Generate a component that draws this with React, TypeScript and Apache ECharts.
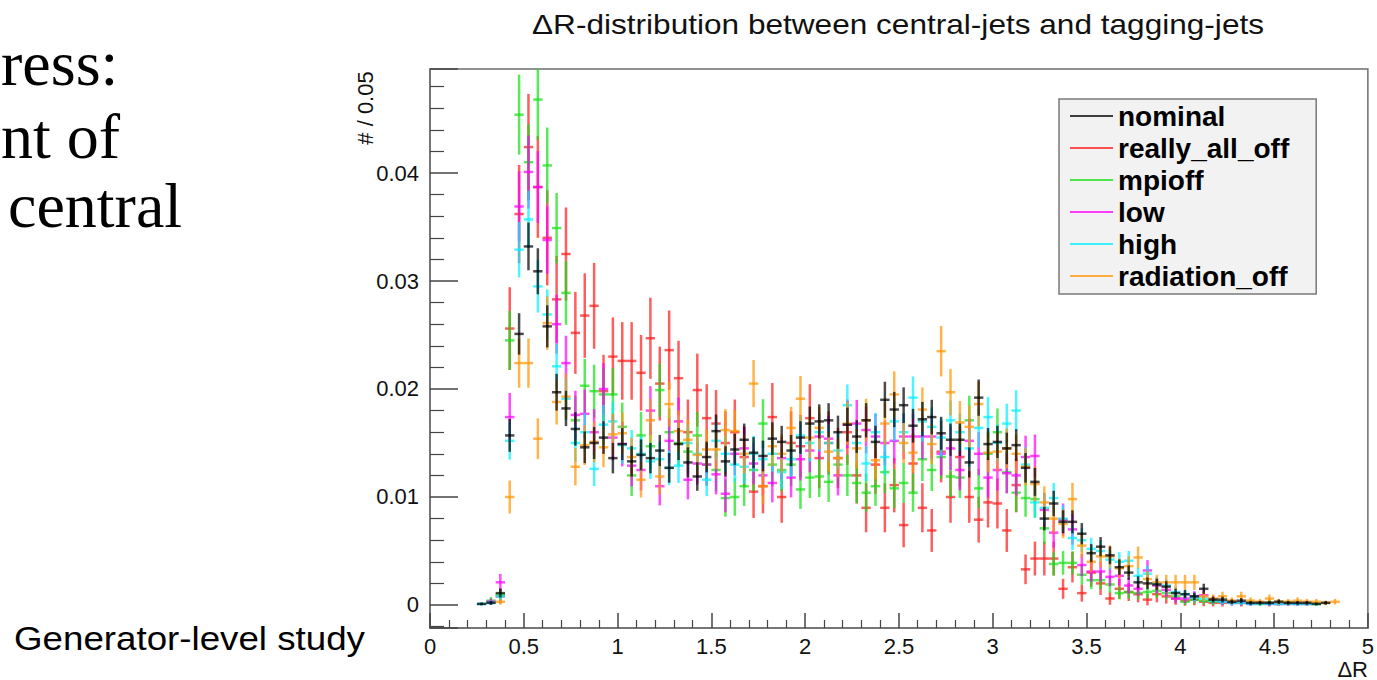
import React, { useEffect, useRef } from "react";
import * as echarts from "echarts";

const BIN_WIDTH = 0.05;

const binCenters = [
  0.275, 0.325, 0.375, 0.425, 0.475, 0.525, 0.575, 0.625, 0.675, 0.725,
  0.775, 0.825, 0.875, 0.925, 0.975, 1.025, 1.075, 1.125, 1.175, 1.225,
  1.275, 1.325, 1.375, 1.425, 1.475, 1.525, 1.575, 1.625, 1.675, 1.725,
  1.775, 1.825, 1.875, 1.925, 1.975, 2.025, 2.075, 2.125, 2.175, 2.225,
  2.275, 2.325, 2.375, 2.425, 2.475, 2.525, 2.575, 2.625, 2.675, 2.725,
  2.775, 2.825, 2.875, 2.925, 2.975, 3.025, 3.075, 3.125, 3.175, 3.225,
  3.275, 3.325, 3.375, 3.425, 3.475, 3.525, 3.575, 3.625, 3.675, 3.725,
  3.775, 3.825, 3.875, 3.925, 3.975, 4.025, 4.075, 4.125, 4.175, 4.225,
  4.275, 4.325, 4.375, 4.425, 4.475, 4.525, 4.575, 4.625, 4.675, 4.725,
  4.775, 4.825,
];

const nominal = [
  0.0001, 0.0002, 0.0011, 0.0157, 0.0251, 0.0332, 0.0309, 0.0258, 0.0197, 0.0182,
  0.0163, 0.0146, 0.0150, 0.0155, 0.0136, 0.0149, 0.0133, 0.0139, 0.0136, 0.0143,
  0.0127, 0.0149, 0.0132, 0.0119, 0.0137, 0.0161, 0.0133, 0.0144, 0.0153, 0.0141,
  0.0138, 0.0154, 0.0151, 0.0143, 0.0155, 0.0168, 0.0170, 0.0171, 0.0160, 0.0167,
  0.0156, 0.0171, 0.0151, 0.0190, 0.0181, 0.0185, 0.0166, 0.0172, 0.0174, 0.0159,
  0.0153, 0.0153, 0.0132, 0.0192, 0.0149, 0.0151, 0.0145, 0.0148, 0.0127, 0.0114,
  0.0080, 0.0094, 0.0077, 0.0077, 0.0066, 0.0048, 0.0054, 0.0046, 0.0035, 0.0030,
  0.0021, 0.0020, 0.0019, 0.0017, 0.0011, 0.0010, 0.0008, 0.0015, 0.0005, 0.0005,
  0.0003, 0.0004, 0.0002, 0.0002, 0.0002, 0.0003, 0.0002, 0.0002, 0.0002, 0.0001,
  0.0002, null,
];

const reallyAllOff = [
  null, null, 0.0008, 0.0256, 0.0362, 0.0424, 0.0387, 0.0340, 0.0283, 0.0325,
  0.0252, 0.0268, 0.0277, 0.0198, 0.0230, 0.0226, 0.0226, 0.0215, 0.0247, 0.0205,
  0.0236, 0.0210, 0.0160, 0.0199, 0.0173, 0.0168, 0.0150, 0.0160, 0.0137, 0.0105,
  0.0110, 0.0174, 0.0100, 0.0150, 0.0147, 0.0173, 0.0136, 0.0150, 0.0136, 0.0160,
  0.0120, 0.0090, 0.0130, 0.0090, 0.0111, 0.0074, 0.0131, 0.0090, 0.0069, 0.0142,
  0.0100, 0.0137, 0.0100, 0.0079, 0.0095, 0.0094, 0.0069, 0.0111, 0.0033, 0.0043,
  0.0043, 0.0043, 0.0015, 0.0035, 0.0011, 0.0030, 0.0020, 0.0006, 0.0015, 0.0012,
  0.0010, 0.0005, 0.0010, 0.0008, 0.0006, 0.0004, 0.0005, 0.0003, 0.0002, 0.0002,
  null, 0.0002, null, null, 0.0002, null, null, null, null, null,
  null, null,
];

const mpioff = [
  null, 0.0004, 0.0010, 0.0245, 0.0454, 0.0410, 0.0468, 0.0407, 0.0349, 0.0289,
  0.0171, 0.0203, 0.0198, 0.0195, 0.0195, 0.0165, 0.0120, 0.0157, 0.0147, 0.0199,
  0.0160, 0.0150, 0.0142, 0.0157, 0.0130, 0.0125, 0.0099, 0.0100, 0.0110, 0.0125,
  0.0168, 0.0130, 0.0125, 0.0130, 0.0107, 0.0118, 0.0119, 0.0114, 0.0130, 0.0120,
  0.0113, 0.0104, 0.0110, 0.0123, 0.0108, 0.0113, 0.0104, 0.0135, 0.0125, 0.0137,
  0.0119, 0.0118, 0.0171, 0.0108, 0.0140, 0.0160, 0.0123, 0.0104, 0.0099, 0.0098,
  0.0071, 0.0038, 0.0039, 0.0039, 0.0028, 0.0023, 0.0023, 0.0019, 0.0011, 0.0012,
  0.0011, 0.0012, 0.0013, 0.0011, 0.0008, 0.0003, 0.0005, 0.0004, 0.0003, 0.0003,
  0.0002, 0.0002, 0.0002, 0.0001, 0.0002, 0.0001, 0.0002, 0.0001, 0.0001, 0.0001,
  null, null,
];

const low = [
  null, 0.0003, 0.0021, 0.0174, 0.0369, 0.0401, 0.0387, 0.0338, 0.0260, 0.0224,
  0.0176, 0.0177, 0.0160, 0.0200, 0.0155, 0.0149, 0.0129, 0.0125, 0.0180, 0.0110,
  0.0152, 0.0170, 0.0116, 0.0131, 0.0130, 0.0121, 0.0103, 0.0140, 0.0145, 0.0131,
  0.0120, 0.0113, 0.0136, 0.0118, 0.0135, 0.0143, 0.0156, 0.0154, 0.0120, 0.0167,
  0.0168, 0.0162, 0.0156, 0.0150, 0.0152, 0.0156, 0.0156, 0.0156, 0.0156, 0.0140,
  0.0145, 0.0125, 0.0152, 0.0140, 0.0118, 0.0125, 0.0122, 0.0120, 0.0137, 0.0138,
  0.0088, 0.0067, 0.0079, 0.0070, 0.0037, 0.0031, 0.0031, 0.0026, 0.0027, 0.0018,
  0.0015, 0.0032, 0.0018, 0.0014, 0.0006, 0.0006, 0.0008, 0.0009, 0.0005, 0.0003,
  0.0002, 0.0002, 0.0001, 0.0002, 0.0001, 0.0001, 0.0001, 0.0001, 0.0001, null,
  null, null,
];

const high = [
  0.0001, 0.0002, 0.0008, 0.0152, 0.0329, 0.0357, 0.0295, 0.0269, 0.0221, 0.0191,
  0.0150, 0.0160, 0.0126, 0.0167, 0.0170, 0.0148, 0.0145, 0.0140, 0.0133, 0.0135,
  0.0127, 0.0129, 0.0150, 0.0140, 0.0116, 0.0152, 0.0140, 0.0130, 0.0128, 0.0140,
  0.0135, 0.0140, 0.0123, 0.0135, 0.0157, 0.0150, 0.0160, 0.0150, 0.0143, 0.0185,
  0.0150, 0.0131, 0.0160, 0.0137, 0.0170, 0.0160, 0.0192, 0.0170, 0.0165, 0.0155,
  0.0171, 0.0160, 0.0145, 0.0164, 0.0174, 0.0150, 0.0168, 0.0180, 0.0130, 0.0095,
  0.0090, 0.0099, 0.0080, 0.0062, 0.0060, 0.0052, 0.0050, 0.0042, 0.0040, 0.0041,
  0.0027, 0.0029, 0.0020, 0.0018, 0.0012, 0.0010, 0.0007, 0.0006, 0.0004, 0.0003,
  0.0002, 0.0002, 0.0001, 0.0001, 0.0001, 0.0001, 0.0001, 0.0001, 0.0001, 0.0001,
  null, null,
];

const radiationOff = [
  null, null, 0.0003, 0.0100, 0.0224, 0.0224, 0.0154, 0.0261, 0.0188, 0.0193,
  0.0128, 0.0148, 0.0151, 0.0146, 0.0158, 0.0159, 0.0137, 0.0116, 0.0171, 0.0119,
  0.0186, 0.0161, 0.0153, 0.0139, 0.0144, 0.0144, 0.0162, 0.0161, 0.0140, 0.0205,
  0.0110, 0.0147, 0.0140, 0.0164, 0.0191, 0.0155, 0.0164, 0.0142, 0.0136, 0.0168,
  0.0145, 0.0171, 0.0134, 0.0168, 0.0195, 0.0150, 0.0141, 0.0181, 0.0149, 0.0235,
  0.0197, 0.0169, 0.0165, 0.0186, 0.0141, 0.0142, 0.0145, 0.0140, 0.0128, 0.0112,
  0.0095, 0.0080, 0.0075, 0.0098, 0.0055, 0.0040, 0.0045, 0.0045, 0.0034, 0.0036,
  0.0044, 0.0024, 0.0021, 0.0021, 0.0021, 0.0021, 0.0021, 0.0008, 0.0006, 0.0008,
  0.0004, 0.0008, 0.0004, 0.0003, 0.0006, 0.0003, 0.0003, 0.0004, 0.0003, 0.0003,
  0.0002, 0.0003,
];

// series names, colours and total entries (for Poisson error bars)
const seriesNames = ["nominal", "really_all_off", "mpioff", "low", "high", "radiation_off"];
const seriesValues = [nominal, reallyAllOff, mpioff, low, high, radiationOff];
const seriesColors = ["#000000", "#ff1a1a", "#14e014", "#ff00ff", "#00f0ff", "#ff9500"];
const seriesEntries = [6800, 1750, 3300, 3500, 5000, 4300];
const drawOrder = [1, 2, 3, 4, 5, 0];

export default function App() {
  const ref = useRef<HTMLDivElement>(null);

  useEffect(() => {
    if (!ref.current) return;
    const chart = echarts.init(ref.current, undefined, { renderer: "svg" });

    const series = drawOrder.map((si) => {
      const vals = seriesValues[si];
      const data: number[][] = [];
      vals.forEach((v, i) => {
        if (v === null || v === undefined) return;
        data.push([binCenters[i], v, Math.sqrt(v / seriesEntries[si])]);
      });
      const color = seriesColors[si];
      return {
        type: "custom",
        name: seriesNames[si],
        data,
        clip: true,
        itemStyle: { color, opacity: 0.75 },
        renderItem: (params: any, api: any) => {
          const x = api.value(0);
          const y = api.value(1);
          const e = api.value(2);
          const pl = api.coord([x - BIN_WIDTH / 2, y]);
          const pr = api.coord([x + BIN_WIDTH / 2, y]);
          const pt = api.coord([x, y + e]);
          const pb = api.coord([x, y - e]);
          const st = { stroke: color, lineWidth: 2.5, opacity: 0.7 };
          return {
            type: "group",
            children: [
              { type: "line", shape: { x1: pl[0], y1: pl[1], x2: pr[0], y2: pr[1] }, style: st },
              { type: "line", shape: { x1: pt[0], y1: pt[1], x2: pb[0], y2: pb[1] }, style: st },
            ],
          };
        },
      };
    });

    const option: any = {
      animation: false,
      backgroundColor: "#ffffff",
      grid: {
        left: 430,
        top: 69,
        right: 9,
        bottom: 52,
        show: true,
        borderColor: "#6e6e6e",
        borderWidth: 1.5,
        containLabel: false,
      },
      legend: {
        orient: "vertical",
        left: 1059,
        top: 99,
        data: seriesNames.map((n) => ({ name: n, icon: "rect" })),
        itemWidth: 43,
        itemHeight: 2,
        itemGap: 4,
        itemTextGap: 10,
        padding: [3, 27, 4, 11],
        backgroundColor: "#f2f2f2",
        borderColor: "#7a7a7a",
        borderWidth: 1.5,
        selectedMode: false,
        textStyle: {
          fontFamily: "Liberation Sans",
          fontWeight: "bold",
          fontSize: 28,
          lineHeight: 27,
          color: "#000",
        },
      },
      xAxis: {
        type: "value",
        min: 0,
        max: 5,
        interval: 0.5,
        axisLine: { show: true, onZero: false, lineStyle: { color: "#6e6e6e", width: 1.5 } },
        axisTick: { show: true, inside: true, length: 15, lineStyle: { color: "#444", width: 1.5 } },
        minorTick: { show: true, splitNumber: 5, length: 8, lineStyle: { color: "#444", width: 1.2 } },
        splitLine: { show: false },
        axisLabel: {
          fontFamily: "Liberation Sans",
          fontSize: 22,
          color: "#111",
          margin: 7,
        },
      },
      yAxis: {
        type: "value",
        min: -0.00213,
        max: 0.04963,
        splitNumber: 5,
        axisLine: { show: true, onZero: false, lineStyle: { color: "#6e6e6e", width: 1.5 } },
        axisTick: { show: true, inside: true, length: 28, lineStyle: { color: "#444", width: 1.5 } },
        minorTick: { show: true, splitNumber: 5, length: 14, lineStyle: { color: "#444", width: 1.2 } },
        splitLine: { show: false },
        axisLabel: {
          fontFamily: "Liberation Sans",
          fontSize: 22,
          color: "#111",
          margin: 11,
          showMinLabel: false,
          showMaxLabel: false,
          formatter: (v: number) => (Math.abs(v) < 1e-9 ? "0" : v.toFixed(2)),
        },
      },
      graphic: [
        {
          type: "text",
          x: 898,
          y: 24,
          scaleX: 1.17,
          style: {
            text: "\u0394R-distribution between central-jets and tagging-jets",
            fontFamily: "Liberation Sans",
            fontSize: 27,
            fill: "#111",
            align: "center",
            verticalAlign: "middle",
          },
        },
        {
          type: "text",
          x: 365,
          y: 108,
          rotation: Math.PI / 2,
          style: {
            text: "# / 0.05",
            fontFamily: "Liberation Sans",
            fontSize: 22,
            fill: "#111",
            align: "center",
            verticalAlign: "middle",
          },
        },
        {
          type: "text",
          x: 1368,
          y: 669,
          style: {
            text: "\u0394R",
            fontFamily: "Liberation Sans",
            fontSize: 22,
            fill: "#111",
            align: "right",
            verticalAlign: "middle",
          },
        },
        {
          type: "text",
          x: 1,
          y: 63,
          style: {
            text: "ress:",
            fontFamily: "Liberation Serif",
            fontSize: 64,
            fill: "#000",
            align: "left",
            verticalAlign: "middle",
          },
        },
        {
          type: "text",
          x: 1,
          y: 136,
          style: {
            text: "nt of",
            fontFamily: "Liberation Serif",
            fontSize: 64,
            fill: "#000",
            align: "left",
            verticalAlign: "middle",
          },
        },
        {
          type: "text",
          x: 8,
          y: 205,
          style: {
            text: "central",
            fontFamily: "Liberation Serif",
            fontSize: 64,
            fill: "#000",
            align: "left",
            verticalAlign: "middle",
          },
        },
        {
          type: "text",
          x: 14,
          y: 638,
          scaleX: 1.08,
          style: {
            text: "Generator-level study",
            fontFamily: "Liberation Sans",
            fontSize: 34,
            fill: "#000",
            align: "left",
            verticalAlign: "middle",
          },
        },
      ],
      series,
    };

    chart.setOption(option);
    return () => {
      chart.dispose();
    };
  }, []);

  return (
    <div
      ref={ref}
      style={{ position: "absolute", left: 0, top: 0, width: 1377, height: 680, background: "#fff" }}
    />
  );
}
